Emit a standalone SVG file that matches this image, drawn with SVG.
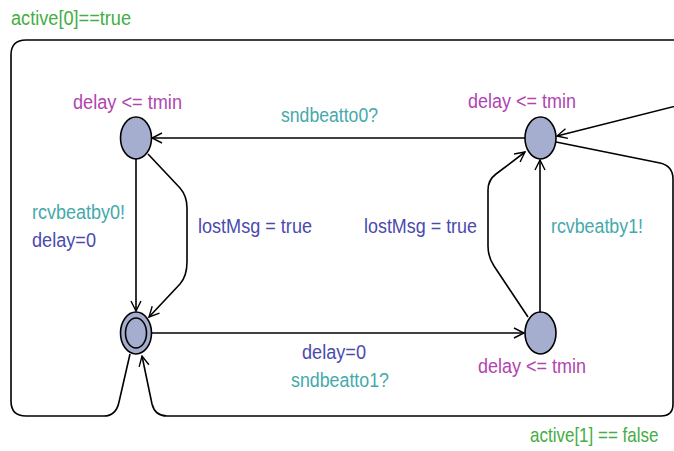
<svg xmlns="http://www.w3.org/2000/svg" width="674" height="451" viewBox="0 0 674 451">
<style>
text{font-family:"Liberation Sans",Arial,sans-serif;font-size:20px}
.g{fill:#44ad44}.t{fill:#45a9ab}.b{fill:#4a4aaf}.m{fill:#b044b0}
.n{fill:#a6aed0;stroke:#000;stroke-width:1.6}
.e{fill:none;stroke:#000;stroke-width:1.6;marker-end:url(#a)}
</style>
<defs>
<marker id="a" viewBox="0 0 12 12" refX="11" refY="6" markerWidth="12" markerHeight="12" markerUnits="userSpaceOnUse" orient="auto">
<path d="M1 1 L11 6 L1 11" fill="none" stroke="#000" stroke-width="1.4"/>
</marker>
</defs>
<g id="connectors">
<path class="e" d="M525 138 L152 138"/>
<path class="e" d="M136 159 L136 311"/>
<path class="e" d="M148 154 L180 188 Q187 196 187 208 L187 262 Q187 276 180 284 L149 317"/>
<path class="e" d="M152 333 L524 333"/>
<path class="e" d="M528 317 L494 266 Q488 257 488 246 L488 190 Q488 180 496 174 L525 152"/>
<path class="e" d="M540 313 L540 160"/>
<path class="e" d="M130 354 L119 402 Q116 416 104 416 L26 416 Q11 416 11 401 L11 55 Q11 40 26 40 L700 40 L700 100 L557 136"/>
<path class="e" d="M556 142 L660 163 Q673 166 673 179 L673 404 Q673 416 661 416 L167 416 Q155 416 152 404 L142 356"/>
</g>
<g id="labels">
<text class="g" x="11" y="25" textLength="120" lengthAdjust="spacingAndGlyphs">active[0]==true</text>
<text class="g" transform="translate(530 442) scale(0.85 1)" x="0" y="0">active[1] == false</text>
<text class="t" x="281" y="122" textLength="97" lengthAdjust="spacingAndGlyphs">sndbeatto0?</text>
<text class="t" x="32" y="219" textLength="93" lengthAdjust="spacingAndGlyphs">rcvbeatby0!</text>
<text class="b" x="32" y="247" textLength="64" lengthAdjust="spacingAndGlyphs">delay=0</text>
<text class="b" x="198" y="233" textLength="114" lengthAdjust="spacingAndGlyphs">lostMsg = true</text>
<text class="b" x="364" y="233" textLength="113" lengthAdjust="spacingAndGlyphs">lostMsg = true</text>
<text class="t" x="551" y="233" textLength="92" lengthAdjust="spacingAndGlyphs">rcvbeatby1!</text>
<text class="b" x="302" y="359" textLength="64" lengthAdjust="spacingAndGlyphs">delay=0</text>
<text class="t" x="291" y="387" textLength="98" lengthAdjust="spacingAndGlyphs">sndbeatto1?</text>
</g>
<g id="n0">
<ellipse class="n" cx="136" cy="138" rx="15.5" ry="21"/>
<text class="m" x="73" y="109" textLength="109" lengthAdjust="spacingAndGlyphs">delay &lt;= tmin</text>
</g>
<g id="n1">
<ellipse class="n" cx="540.5" cy="138" rx="15.5" ry="21"/>
<text class="m" x="468" y="108" textLength="108" lengthAdjust="spacingAndGlyphs">delay &lt;= tmin</text>
</g>
<g id="n2">
<ellipse class="n" cx="136" cy="333" rx="15.5" ry="21"/>
<ellipse class="n" cx="136" cy="333" rx="10.5" ry="15" fill="none"/>
</g>
<g id="n3">
<ellipse class="n" cx="540.5" cy="333" rx="15.5" ry="21"/>
<text class="m" x="478" y="373" textLength="108" lengthAdjust="spacingAndGlyphs">delay &lt;= tmin</text>
</g>
</svg>
